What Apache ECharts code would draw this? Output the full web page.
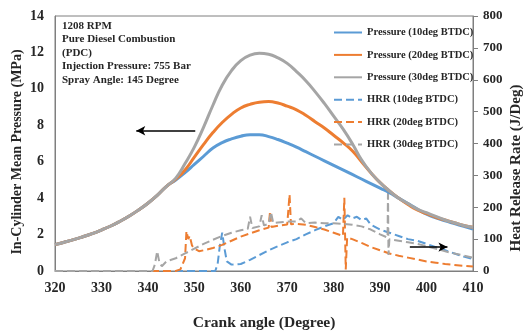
<!DOCTYPE html>
<html><head><meta charset="utf-8">
<script src="https://cdn.jsdelivr.net/npm/echarts@6/dist/echarts.min.js"></script>
<style>html,body{margin:0;padding:0;background:#fff}#c{width:527px;height:336px}</style>
</head><body><div id="c"></div>
<script>
var pAngles = [320,322,324,326,328,330,332,334,336,338,340,342,344,346,348,350,352,354,356,358,360,362,364,366,368,370,372,374,376,378,380,382,384,386,388,390,392,394,396,398,400,402,404,406,408,410];
var p10 = [1.45,1.58,1.72,1.88,2.05,2.25,2.47,2.73,3.02,3.35,3.72,4.15,4.65,5.0,5.4,5.85,6.3,6.75,7.05,7.25,7.4,7.48,7.48,7.38,7.22,7.02,6.8,6.55,6.3,6.05,5.8,5.55,5.3,5.05,4.8,4.55,4.3,4.0,3.7,3.4,3.12,2.92,2.75,2.6,2.45,2.3];
var p20 = [1.45,1.58,1.72,1.88,2.05,2.25,2.47,2.73,3.02,3.35,3.72,4.15,4.65,5.05,5.55,6.25,6.95,7.6,8.15,8.6,8.95,9.15,9.27,9.3,9.22,9.05,8.85,8.55,8.2,7.85,7.45,7.05,6.6,6.0,5.4,4.85,4.4,4.0,3.65,3.35,3.15,2.95,2.8,2.65,2.5,2.4];
var p30 = [1.45,1.58,1.72,1.88,2.05,2.25,2.47,2.73,3.02,3.35,3.72,4.15,4.65,5.1,5.9,6.8,7.9,9.1,10.2,11.0,11.55,11.85,11.95,11.9,11.7,11.4,10.95,10.45,9.85,9.2,8.5,7.8,7.0,6.1,5.4,4.85,4.4,4.0,3.7,3.4,3.2,3.0,2.8,2.65,2.5,2.4];

var hrr10 = [[320,0],[354.5,0],[355,20],[355.5,80],[356,120],[356.5,70],[357,30],[358,20],[360,22],[362,35],[364,50],[366,65],[368,78],[370,90],[372,100],[374,115],[376,128],[378,140],[380,150],[381,170],[382,160],[383,175],[384,165],[385,170],[386,160],[387,165],[388,145],[390,130],[392,120],[394,110],[396,100],[398,95],[400,85],[402,75],[404,65],[406,55],[408,45],[410,37]];
var hrr20 = [[320,0],[346,0],[347,5],[348,40],[348.3,125],[348.7,100],[349,110],[349.5,80],[350,70],[351,62],[352,65],[354,72],[356,82],[358,95],[360,108],[362,118],[364,128],[366,136],[366.3,187],[366.6,138],[368,142],[370,146],[370.5,240],[370.8,147],[372,148],[374,145],[376,138],[378,130],[380,120],[382,110],[382.3,230],[382.6,5],[382.9,105],[384,100],[386,88],[388,75],[390,65],[392,55],[394,48],[396,42],[398,36],[400,30],[402,26],[404,22],[406,19],[408,16],[410,14]];
var hrr30 = [[320,0],[341,0],[341.5,20],[342,62],[342.5,25],[343,15],[344,30],[346,40],[348,55],[350,70],[352,85],[354,98],[356,110],[358,120],[360,128],[361.5,132],[362,170],[362.5,135],[364,140],[364.5,175],[365,143],[366,148],[366.5,185],[367,150],[368,152],[370,155],[372,155],[373,165],[374,150],[376,152],[378,150],[380,150],[382,148],[384,145],[386,140],[388,130],[390,115],[391.6,105],[391.7,256],[391.8,50],[392,100],[394,95],[396,90],[398,85],[400,78],[405,58],[410,42]];

var xTicks = {min:320, max:410, step:10};
var pAxis = {min:0, max:14, step:2};
var hAxis = {min:0, max:800, step:100};

var names = ['Pressure (10deg BTDC)','Pressure (20deg BTDC)','Pressure (30deg BTDC)','HRR (10deg BTDC)','HRR (20deg BTDC)','HRR (30deg BTDC)'];
var colors = ['#5B9BD5','#ED7D31','#A5A5A5'];
var serif = '"Liberation Serif","Times New Roman",serif';

function zip(a,b){return a.map(function(v,i){return [v,b[i]];});}

var chart = echarts.init(document.getElementById('c'));
var lblStyle = {fontFamily:serif, fontWeight:'bold', fontSize:14, color:'#262626'};
chart.setOption({
  animation:false,
  grid:{left:55,right:54,top:16,bottom:64,show:true,borderColor:'#7f7f7f',borderWidth:1},
  legend:{orient:'vertical',left:333,top:27,padding:0,itemWidth:28,itemHeight:12,itemGap:11.4,
    itemStyle:{opacity:0},
    textStyle:{fontFamily:serif,fontWeight:'bold',fontSize:10.5,color:'#262626'},data:names},
  xAxis:{type:'value',min:xTicks.min,max:xTicks.max,interval:xTicks.step,
    name:'Crank angle (Degree)',nameLocation:'middle',nameGap:44,
    nameTextStyle:{fontFamily:serif,fontWeight:'bold',fontSize:15.5,color:'#262626'},
    axisLine:{lineStyle:{color:'#7f7f7f'}},axisTick:{show:false},splitLine:{show:false},
    axisLabel:Object.assign({margin:10},lblStyle)},
  yAxis:[
    {type:'value',min:pAxis.min,max:pAxis.max,interval:pAxis.step,
     axisLine:{show:true,lineStyle:{color:'#7f7f7f'}},axisTick:{show:false},splitLine:{show:false},
     axisLabel:Object.assign({margin:11},lblStyle)},
    {type:'value',position:'right',min:hAxis.min,max:hAxis.max,interval:hAxis.step,
     axisLine:{show:true,lineStyle:{color:'#7f7f7f'}},axisTick:{show:true,length:5,lineStyle:{color:'#7f7f7f'}},splitLine:{show:false},
     axisLabel:Object.assign({margin:10},lblStyle,{fontSize:13})}
  ],
  graphic:[
    {type:'text',left:62,top:19,style:{text:'1208 RPM\nPure Diesel Combustion\n(PDC)\nInjection Pressure: 755 Bar\nSpray Angle: 145 Degree',
      font:'bold 11px '+serif,fill:'#262626',lineHeight:13.5}},
    {type:'text',x:17,y:152,rotation:Math.PI/2,style:{text:'In-Cylinder Mean Pressure (MPa)',font:'bold 14px '+serif,fill:'#262626',align:'center',verticalAlign:'middle'}},
    {type:'text',x:516,y:168,rotation:Math.PI/2,style:{text:'Heat Release Rate (J/Deg)',font:'bold 15px '+serif,fill:'#262626',align:'center',verticalAlign:'middle'}}
  ],
  series:[
    {name:names[0],type:'line',yAxisIndex:0,data:zip(pAngles,p10),smooth:true,symbol:'none',lineStyle:{width:3,color:colors[0]},itemStyle:{color:colors[0]},z:3},
    {name:names[1],type:'line',yAxisIndex:0,data:zip(pAngles,p20),smooth:true,symbol:'none',lineStyle:{width:3,color:colors[1]},itemStyle:{color:colors[1]},z:3},
    {name:names[2],type:'line',yAxisIndex:0,data:zip(pAngles,p30),smooth:true,symbol:'none',lineStyle:{width:3,color:colors[2]},itemStyle:{color:colors[2]},z:3,
     markLine:{silent:true,symbol:['none','arrow'],symbolSize:[7,9],label:{show:false},lineStyle:{color:'#000',type:'solid',width:1.5},
       data:[[{coord:[350.2,7.7]},{coord:[337.5,7.7]}]]}},
    {name:names[3],type:'line',yAxisIndex:1,data:hrr10,symbol:'none',lineStyle:{width:2,type:'dashed',color:colors[0]},itemStyle:{color:colors[0]},z:2},
    {name:names[4],type:'line',yAxisIndex:1,data:hrr20,symbol:'none',lineStyle:{width:2,type:'dashed',color:colors[1]},itemStyle:{color:colors[1]},z:2,
     markLine:{silent:true,symbol:['none','arrow'],symbolSize:[7,9],label:{show:false},lineStyle:{color:'#000',type:'solid',width:1.5},
       data:[[{coord:[396.4,75]},{coord:[404.5,75]}]]}},
    {name:names[5],type:'line',yAxisIndex:1,data:hrr30,symbol:'none',lineStyle:{width:2,type:'dashed',color:colors[2]},itemStyle:{color:colors[2]},z:2}
  ]
});
</script></body></html>
